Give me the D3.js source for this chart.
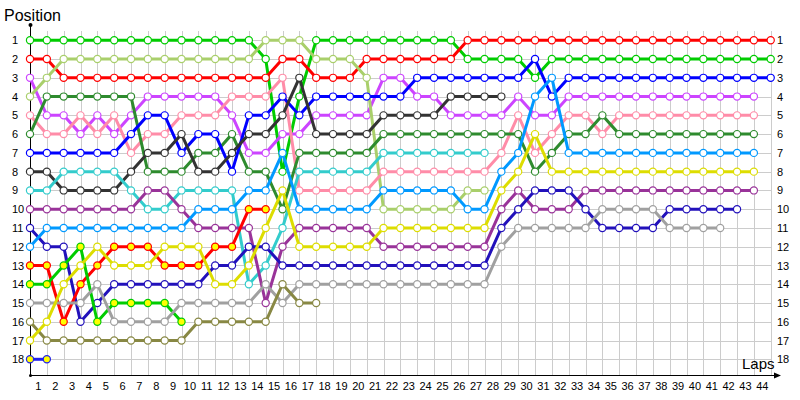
<!DOCTYPE html>
<html lang="en">
<head>
  <meta charset="UTF-8" />
  <title>Lap chart</title>
  <script src="https://d3js.org/d3.v7.min.js"></script>
  <style>
    html, body {
      margin: 0;
      padding: 0;
      background: #ffffff;
      overflow: hidden;
    }
    svg {
      display: block;
      font-family: 'Liberation Sans', Arial, sans-serif;
    }
    .grid line {
      stroke: #cccccc;
      stroke-width: 1px;
      shape-rendering: crispEdges;
    }
    .axis-line {
      stroke: #000;
      stroke-width: 1px;
      shape-rendering: crispEdges;
    }
    .tick-labels text {
      font-size: 11px;
      fill: #000;
    }
    .axis-title {
      font-size: 16px;
      fill: #000;
    }
    .run {
      fill: none;
      stroke-width: 3px;
      stroke-linejoin: round;
    }
  </style>
</head>
<body>
<svg width="800" height="400"></svg>
<script>
// lap labels on the x axis, position labels on both sides
const lapLabels = d3.range(1, 45);
const positionLabels = d3.range(1, 19);

// position of each car, one value per column (column 0 = starting grid)
const greenRun = [1,1,1,1,1,1,1,1,1,1,1,1,1,1,2,8,4,1,1,1,1,1,1,1,1,1,2,2,2,2,3,2,2,2,2,2,2,2,2,2,2,2,2,2,2];
const redRun = [2,2,3,3,3,3,3,3,3,3,3,3,3,3,3,2,2,3,3,3,2,2,2,2,2,2,1,1,1,1,1,1,1,1,1,1,1,1,1,1,1,1,1,1,1];
const violetRun = [3,5,5,6,5,6,5,4,4,4,4,4,5,7,7,6,6,5,5,5,5,3,3,4,4,5,5,5,5,4,5,5,4,4,4,4,4,4,4,4,4,4,4,4];
const lightGreenRun = [4,3,2,2,2,2,2,2,2,2,2,2,2,2,1,1,1,2,2,2,3,10,10,10,10,10,9,9];
const pinkRun = [5,6,6,5,6,5,7,6,6,5,5,5,4,4,4,3,9,9,9,9,9,8,8,8,8,8,8,8,7,5,7,6,5,5,6,5,5,5,5,5,5,5,5,5];
const darkGreenRun = [6,4,4,4,4,4,4,8,8,8,7,7,6,8,8,10,7,7,7,7,7,6,6,6,6,6,6,6,6,6,8,7,6,6,5,6,6,6,6,6,6,6,6,6];
const blueRun = [7,7,7,7,7,7,6,5,5,7,6,6,8,5,5,4,5,4,4,4,4,4,4,3,3,3,3,3,3,3,2,4,3,3,3,3,3,3,3,3,3,3,3,3,3];
const darkGreyRun = [8,8,9,9,9,9,8,7,7,6,8,8,7,6,6,5,3,6,6,6,6,5,5,5,5,4,4,4,4];
const turquoiseRun = [9,9,8,8,8,8,9,10,10,9,9,9,9,14,13,11,8,8,8,8,8,7,7,7,7,7,7,7];
const purpleRun = [10,10,10,10,10,10,10,9,9,10,11,11,11,11,15,12,11,11,11,11,11,12,12,12,12,12,12,12,10,9,10,10,10,9,9,9,9,9,9,9,9,9,9,9];
const indigoRun = [11,12,12,16,15,14,14,14,14,14,14,13,13,12,12,13,13,13,13,13,13,13,13,13,13,13,13,13,11,10,9,9,9,10,11,11,11,11,10,10,10,10,10];
const skyBlueRun = [12,11,11,11,11,11,11,11,11,11,10,10,10,9,9,7,10,10,10,10,10,9,9,9,9,9,10,10,8,7,4,3,7,7,7,7,7,7,7,7,7,7,7,7];
const redYellowRun = [13,13,16,14,13,12,12,12,13,13,13,12,12,10,10];
const greenYellowRun = [14,14,13,12,16,15,15,15,15,16];
const greyRun = [15,15,15,15,14,16,16,16,16,15,15,15,15,15,14,15,14,14,14,14,14,14,14,14,14,14,14,14,12,11,11,11,11,11,10,10,10,10,11,11,11,11];
const oliveRun = [16,17,17,17,17,17,17,17,17,17,16,16,16,16,16,14,15,15];
const yellowRun = [17,16,14,13,12,13,13,13,12,12,12,14,14,13,11,9,12,12,12,12,12,11,11,11,11,11,11,11,9,8,6,8,8,8,8,8,8,8,8,8,8,8,8,8];
const blueYellowRun = [18,18];

const runs = [greenRun, redRun, violetRun, lightGreenRun, pinkRun, darkGreenRun, blueRun,
  darkGreyRun, turquoiseRun, purpleRun, indigoRun, skyBlueRun, redYellowRun,
  greenYellowRun, greyRun, oliveRun, yellowRun, blueYellowRun];
const lineColors = ["#00cc00", "#ff0000", "#cc44ff", "#a9cf6b", "#ff8ca8", "#2e8b2e", "#0000ff",
  "#333333", "#33cccc", "#993399", "#2211bb", "#0099ff", "#ff0000",
  "#00cc00", "#a0a0a0", "#888844", "#dddd00", "#2222ee"];
const markerFills = ["#fff", "#fff", "#fff", "#fff", "#fff", "#fff", "#fff",
  "#fff", "#fff", "#fff", "#fff", "#fff", "#ffff00",
  "#ffff00", "#fff", "#fff", "#fff", "#ffff00"];

const svg = d3.select("svg");
const x = d3.scaleLinear().domain([0, 44]).range([30, 770.7]);
const y = d3.scaleLinear().domain([1, 18]).range([40.3, 359.3]);
const lapBand = d3.scaleBand().domain(lapLabels).range([x(0), x(44)]);
const axisY = 375;

// grid
const grid = svg.append("g").attr("class", "grid");
grid.selectAll("line.v")
  .data(d3.range(0, 45))
  .enter()
  .append("line")
  .attr("class", "v")
  .attr("x1", d => Math.round(x(d)) + 0.5)
  .attr("x2", d => Math.round(x(d)) + 0.5)
  .attr("y1", y(0.5))
  .attr("y2", axisY);
grid.selectAll("line.h")
  .data(positionLabels)
  .enter()
  .append("line")
  .attr("class", "h")
  .attr("x1", x(0))
  .attr("x2", x(44))
  .attr("y1", d => Math.round(y(d)) + 0.5)
  .attr("y2", d => Math.round(y(d)) + 0.5);

// axis lines
svg.append("line").attr("class", "axis-line")
  .attr("x1", 30.5).attr("x2", 30.5).attr("y1", 25).attr("y2", axisY);
svg.append("line").attr("class", "axis-line")
  .attr("x1", 30).attr("x2", 778).attr("y1", axisY + 0.5).attr("y2", axisY + 0.5);
svg.append("circle").attr("cx", 30.5).attr("cy", 25).attr("r", 2).attr("fill", "#000");
svg.append("circle").attr("cx", 30.5).attr("cy", axisY + 0.5).attr("r", 1.5).attr("fill", "#000");
svg.append("path")
  .attr("d", `M781,${axisY + 0.5} L774,${axisY - 2.5} L774,${axisY + 3.5} Z`)
  .attr("fill", "#000");

// tick labels
const leftLabels = svg.append("g")
  .attr("class", "tick-labels")
  .attr("transform", "translate(12,0)")
  .call(d3.axisLeft(y).tickValues(positionLabels).tickSize(0).tickPadding(0));
leftLabels.select(".domain").remove();
leftLabels.selectAll("text").attr("text-anchor", "start").attr("x", 0);

const rightLabels = svg.append("g")
  .attr("class", "tick-labels")
  .attr("transform", "translate(777,0)")
  .call(d3.axisRight(y).tickValues(positionLabels).tickSize(0).tickPadding(0));
rightLabels.select(".domain").remove();

const bottomLabels = svg.append("g")
  .attr("class", "tick-labels")
  .attr("transform", `translate(0,${axisY + 7})`)
  .call(d3.axisBottom(lapBand).tickSize(0).tickPadding(0));
bottomLabels.select(".domain").remove();

svg.selectAll(".tick-labels").attr("font-family", null).attr("font-size", null);

svg.append("text").attr("class", "axis-title").attr("x", 4).attr("y", 21).text("Position");
svg.append("text").attr("class", "axis-title").attr("x", 742).attr("y", 369)
  .style("font-size", "15px").text("Laps");

// car runs
const line = d3.line()
  .x((d, i) => x(i))
  .y(d => y(d));

const cars = svg.selectAll("g.car")
  .data(runs)
  .enter()
  .append("g")
  .attr("class", "car");

cars.append("path")
  .attr("class", "run")
  .attr("stroke", (d, i) => lineColors[i])
  .attr("d", d => line(d));

cars.each(function(run, k) {
  d3.select(this).selectAll("circle")
    .data(run)
    .enter()
    .append("circle")
    .attr("cx", (d, i) => x(i))
    .attr("cy", d => y(d))
    .attr("r", 3.6)
    .attr("fill", markerFills[k])
    .attr("stroke", lineColors[k])
    .attr("stroke-width", 1.2);
});
</script>
</body>
</html>
